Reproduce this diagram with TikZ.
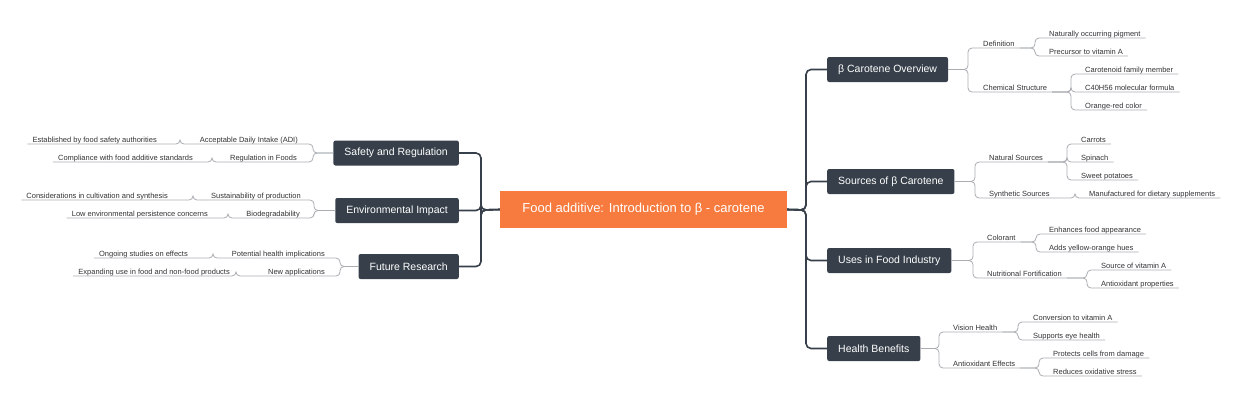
\documentclass[tikz,border=0pt]{standalone}
\usepackage{fontspec}
\setmainfont{Liberation Sans}
\usetikzlibrary{calc}
\definecolor{dark}{HTML}{37404A}
\definecolor{orng}{HTML}{F77B3E}
\definecolor{lgray}{HTML}{A9ADB2}
\definecolor{tgray}{HTML}{333333}
\tikzset{
 lf/.style={font=\fontsize{7.5}{9}\selectfont, text=tgray, inner sep=0pt},
 ln/.style={draw=lgray, line width=0.8pt, rounded corners=4pt},
 mainbox/.style={fill=dark, text=white, rounded corners=2pt, font=\fontsize{10.5}{12}\selectfont, minimum height=25pt, inner xsep=11pt},
 trunk/.style={draw=dark, line width=1.6pt, rounded corners=5pt},
}
% name, parent point, vx, textx, uly, text
\newcommand\rleaf[6]{%
 \coordinate (v#1) at (#3,#5);
 \node[lf,anchor=base west] (#1) at (#4,#5-2) {#6};
 \coordinate (e#1) at ([xshift=5pt]#1.base east |- v#1);
 \draw[ln] (#2) -- (#2 -| v#1) -- (v#1) -- (e#1);}
\newcommand\lleaf[6]{%
 \coordinate (v#1) at (#3,#5);
 \node[lf,anchor=base east] (#1) at (#4,#5-2) {#6};
 \coordinate (e#1) at ([xshift=-5pt]#1.base west |- v#1);
 \draw[ln] (#2) -- (#2 -| v#1) -- (v#1) -- (e#1);}
\begin{document}
\begin{tikzpicture}[x=1pt,y=-1pt]
\useasboundingbox (0,0) rectangle (1240,400);
\fill[white] (0,0) rectangle (1240,400);
\node[fill=orng,text=white,font=\fontsize{13}{15}\selectfont,minimum height=37pt,minimum width=287pt,inner sep=0pt] (C) at (643.5,209.5) {Food additive: Introduction to β - carotene};
\coordinate (tr) at (806,210);
\coordinate (tl) at (481,210);
% right main nodes
\node[mainbox,anchor=west] (M1) at (827,69.5) {β Carotene Overview};
\node[mainbox,anchor=west] (M2) at (827,181.5) {Sources of β Carotene};
\node[mainbox,anchor=west] (M3) at (827,260.5) {Uses in Food Industry};
\node[mainbox,anchor=west] (M4) at (827,348.5) {Health Benefits};
\foreach \m in {M1,M2,M3,M4}{\draw[trunk] (C.east) -- (tr) -- (tr |- \m.west) -- (\m.west);}
% left main nodes
\node[mainbox,anchor=east] (L1) at (459,153) {Safety and Regulation};
\node[mainbox,anchor=east] (L2) at (459,210.5) {Environmental Impact};
\node[mainbox,anchor=east] (L3) at (459,266.5) {Future Research};
\foreach \m in {L1,L2,L3}{\draw[trunk] (C.west) -- (tl) -- (tl |- \m.east) -- (\m.east);}
% Overview
\rleaf{a1}{M1.east}{968}{983}{48}{Definition}
\rleaf{a11}{ea1}{1035}{1049}{38}{Naturally occurring pigment}
\rleaf{a12}{ea1}{1035}{1049}{56}{Precursor to vitamin A}
\rleaf{a2}{M1.east}{968}{983}{92}{Chemical Structure}
\rleaf{a21}{ea2}{1071}{1085}{74}{Carotenoid family member}
\rleaf{a22}{ea2}{1071}{1085}{92}{C40H56 molecular formula}
\rleaf{a23}{ea2}{1071}{1085}{110}{Orange-red color}
% Sources
\rleaf{b1}{M2.east}{975}{989}{162}{Natural Sources}
\rleaf{b11}{eb1}{1067}{1081}{144}{Carrots}
\rleaf{b12}{eb1}{1067}{1081}{162}{Spinach}
\rleaf{b13}{eb1}{1067}{1081}{180}{Sweet potatoes}
\rleaf{b2}{M2.east}{975}{989}{198}{Synthetic Sources}
\rleaf{b21}{eb2}{1075}{1089}{198}{Manufactured for dietary supplements}
% Uses
\rleaf{c1}{M3.east}{973}{987}{242}{Colorant}
\rleaf{c11}{ec1}{1036}{1049}{234}{Enhances food appearance}
\rleaf{c12}{ec1}{1036}{1049}{252}{Adds yellow-orange hues}
\rleaf{c2}{M3.east}{973}{987}{278}{Nutritional Fortification}
\rleaf{c21}{ec2}{1087}{1101}{270}{Source of vitamin A}
\rleaf{c22}{ec2}{1087}{1101}{288}{Antioxidant properties}
% Health
\rleaf{d1}{M4.east}{939}{953}{332}{Vision Health}
\rleaf{d11}{ed1}{1018}{1033}{322}{Conversion to vitamin A}
\rleaf{d12}{ed1}{1018}{1033}{340}{Supports eye health}
\rleaf{d2}{M4.east}{939}{953}{368}{Antioxidant Effects}
\rleaf{d21}{ed2}{1039}{1053}{358}{Protects cells from damage}
\rleaf{d22}{ed2}{1039}{1053}{376}{Reduces oxidative stress}
% Safety
\lleaf{s1}{L1.west}{313}{298}{144}{Acceptable Daily Intake (ADI)}
\lleaf{s11}{es1}{180}{157}{144}{Established by food safety authorities}
\lleaf{s2}{L1.west}{313}{297}{162}{Regulation in Foods}
\lleaf{s21}{es2}{212}{193}{162}{Compliance with food additive standards}
% Environment
\lleaf{t1}{L2.west}{314}{301}{200}{Sustainability of production}
\lleaf{t11}{et1}{193}{168}{200}{Considerations in cultivation and synthesis}
\lleaf{t2}{L2.west}{314}{300}{218}{Biodegradability}
\lleaf{t21}{et2}{228}{208}{218}{Low environmental persistence concerns}
% Future
\lleaf{f1}{L3.west}{340}{325}{258}{Potential health implications}
\lleaf{f11}{ef1}{213}{188}{258}{Ongoing studies on effects}
\lleaf{f2}{L3.west}{340}{325}{276}{New applications}
\lleaf{f21}{ef2}{236}{230}{276}{Expanding use in food and non-food products}
\end{tikzpicture}
\end{document}
